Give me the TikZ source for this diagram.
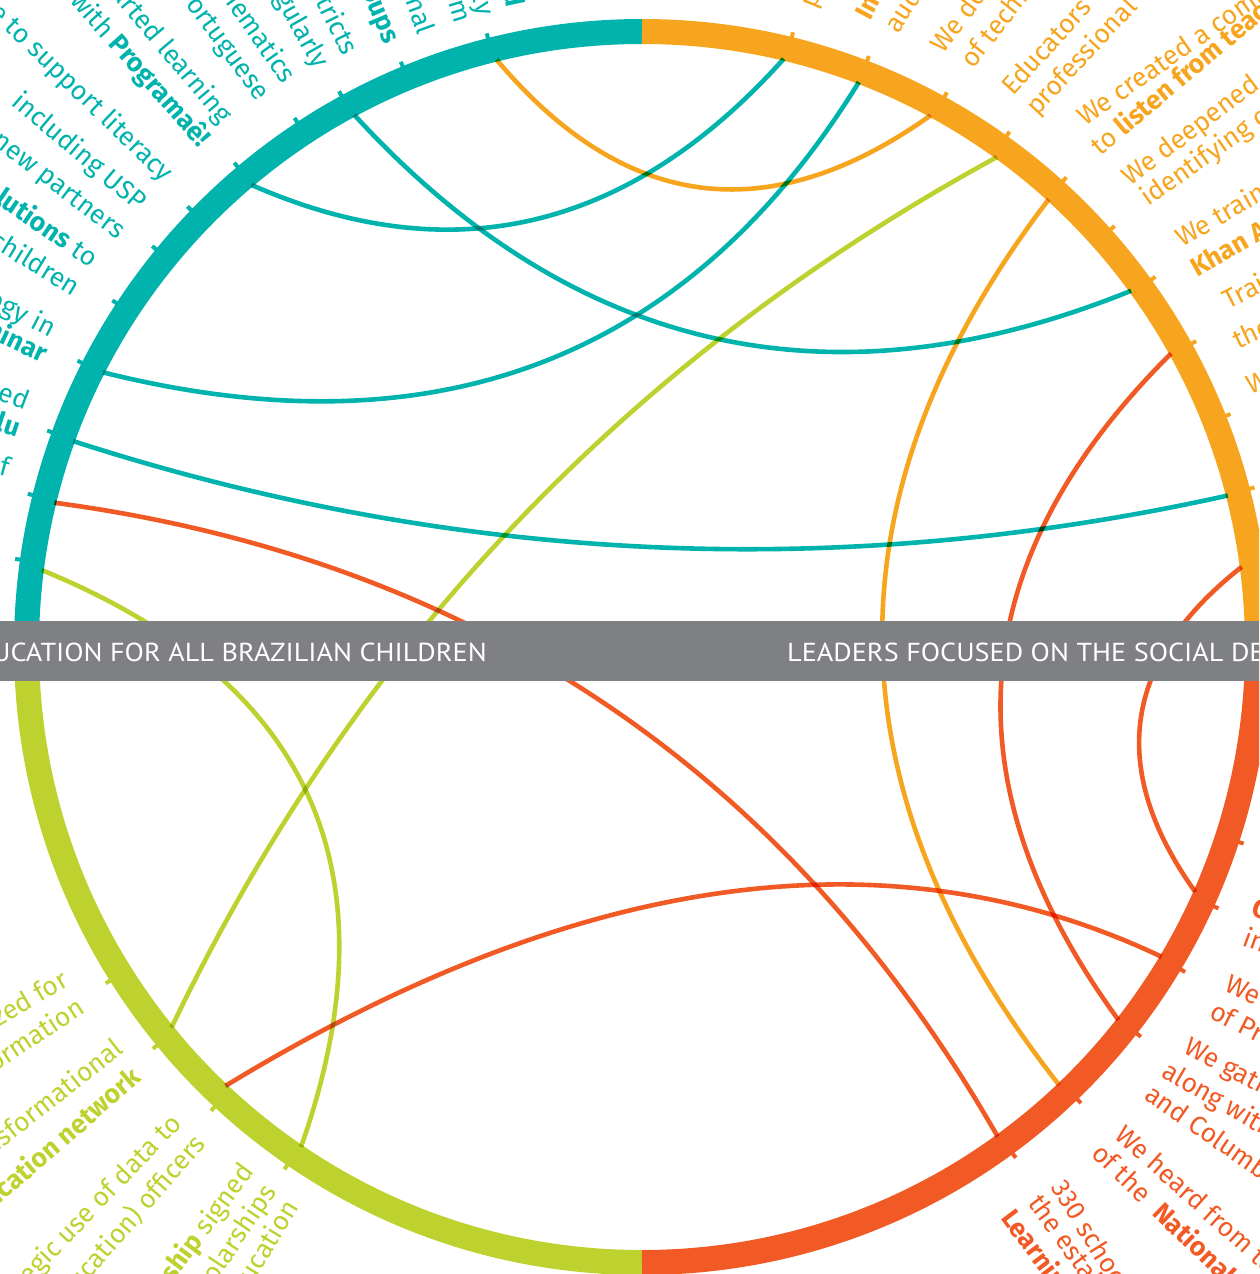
\documentclass[tikz,border=0pt]{standalone}
\usepackage{fontspec}
\setmainfont{Fira Sans}
\newfontfamily\bandfont{PT Sans}
\usetikzlibrary{calc}
\definecolor{cteal}{HTML}{00B3AD}
\definecolor{corange}{HTML}{F7A51E}
\definecolor{cred}{HTML}{F15A24}
\definecolor{clime}{HTML}{BED22F}
\definecolor{cband}{HTML}{7F8084}
\tikzset{
  ringarc/.style={line width=25pt},
  tickmark/.style={line width=4pt},
  chordline/.style={line width=4.6pt},
  etxt/.style={font=\fontsize{26.5}{26.5}\selectfont, inner sep=0pt},
  bandtxt/.style={font=\bandfont\fontsize{26}{26}\selectfont, text=white, inner sep=0pt},
}
\newcommand\Ltxt[5]{\node[etxt,text=#2,anchor=base east,rotate=#3] (#1) at #4 {#5};}
\newcommand\Rtxt[5]{\node[etxt,text=#2,anchor=base west,rotate=#3] (#1) at #4 {#5};}
\newcommand\chord[5]{%
  \coordinate (#1a) at (#3:605);
  \coordinate (#1b) at (#4:605);
  \coordinate (#1c) at #5;
  \draw[chordline,#2] (#1a) .. controls ($(#1a)!0.6667!(#1c)$) and ($(#1b)!0.6667!(#1c)$) .. (#1b);}
\begin{document}
\begin{tikzpicture}[x=1pt,y=1pt]
\useasboundingbox (0,0) rectangle (1259,-1274);
\clip (0,0) rectangle (1259,-1274);
\fill[white] (0,0) rectangle (1259,-1274);
\begin{scope}[shift={(642,-647)}]
  % ring
  \draw[ringarc,cteal] (90:615.5) arc[start angle=90,end angle=180,radius=615.5];
  \draw[ringarc,clime] (180:615.5) arc[start angle=180,end angle=270,radius=615.5];
  \draw[ringarc,cred] (270:615.5) arc[start angle=270,end angle=360,radius=615.5];
  \draw[ringarc,corange] (0:615.5) arc[start angle=0,end angle=90,radius=615.5];
  % ticks
  \foreach \a in {104.2,112.4,118.6,123.3,130.1,135.9,140.7,146.8,153.1,160,166,172}
    \draw[tickmark,cteal] (\a:626) -- (\a:633);
  \foreach \a in {76.2,69,61.2,54.5,47.9,41.7,35.8,28.9,21.6,14.6}
    \draw[tickmark,corange] (\a:626) -- (\a:633);
  \foreach \a in {-18.1,-24.4,-30.9,-38,-46.1,-53.8}
    \draw[tickmark,cred] (\a:626) -- (\a:633);
  \foreach \a in {212.1,219.4,227.1,235.6}
    \draw[tickmark,clime] (\a:626) -- (\a:633);
  % chords
  \begin{scope}[blend mode=multiply]
  \chord{oa}{corange}{103.9}{61.5}{(46.4,359.5)}
  \chord{ob}{corange}{47.75}{-46.4}{(68.5,5.1)}
  \chord{ta}{cteal}{130.2}{76.45}{(-90,330)}
  \chord{tb}{cteal}{153.0}{69.0}{(-39.4,149.5)}
  \chord{tc}{cteal}{118.4}{36.07}{(39.6,174.5)}
  \chord{td}{cteal}{160.1}{14.5}{(1.5,21.6)}
  \chord{la}{clime}{54.08}{218.96}{(-198.6,188.2)}
  \chord{lb}{clime}{172.7}{235.7}{(-196.2,-88.2)}
  \chord{ra}{cred}{166.2}{306.0}{(40.4,60.1)}
  \chord{rb}{cred}{226.5}{329.2}{(112.6,-116.7)}
  \chord{rc}{cred}{29.02}{-38.05}{(216.7,-17)}
  \chord{rd}{cred}{7.61}{-23.87}{(421.2,-60.2)}
  \end{scope}
\end{scope}
% band
\fill[cband] (0,-621) rectangle (1259,-681);
\node[bandtxt,anchor=base east] (bl) at (487,-661) {\scalebox{1.085}[1]{EDUCATION FOR ALL BRAZILIAN CHILDREN}};
\node[bandtxt,anchor=base west] (br) at (787,-661) {\scalebox{1.085}[1]{LEADERS FOCUSED ON THE SOCIAL DEVELOPMENT}};
% teal texts
\Ltxt{t1}{cteal}{-78}{(507,-8)}{\textbf{world}}
\Ltxt{t2}{cteal}{-75.3}{(478,-17)}{daily}
\Ltxt{t3}{cteal}{-73.3}{(455,-24)}{classroom}
\Ltxt{t4}{cteal}{-70}{(418,-36)}{national}
\Ltxt{t5}{cteal}{-67}{(385,-45)}{\textbf{groups}}
\Ltxt{t6}{cteal}{-63.4}{(343,-57)}{districts}
\Ltxt{t7}{cteal}{-60.5}{(315,-70)}{regularly}
\Ltxt{t8}{cteal}{-55}{(283,-85)}{mathematics}
\Ltxt{t9}{cteal}{-54}{(257,-102)}{Portuguese}
\Ltxt{t10}{cteal}{-50}{(220,-125)}{started learning}
\Ltxt{t11}{cteal}{-48.5}{(199,-148)}{with \textbf{Programaê!}}
\Ltxt{t12}{cteal}{-44}{(163,-183)}{software to support literacy}
\Ltxt{t13}{cteal}{-40.5}{(137,-212)}{including USP}
\Ltxt{t14}{cteal}{-37.5}{(117,-240)}{and new partners}
\Ltxt{t15}{cteal}{-34.3}{(90,-268)}{\textbf{solutions} to}
\Ltxt{t16}{cteal}{-31.6}{(73,-297)}{children}
\Ltxt{t17}{cteal}{-27.4}{(50,-338)}{technology in}
\Ltxt{t18}{cteal}{-25.3}{(42,-363)}{\textbf{Seminar}}
\Ltxt{t19}{cteal}{-21}{(25,-410)}{organized}
\Ltxt{t20}{cteal}{-18.6}{(17,-437)}{\textbf{lu}}
\Ltxt{t21}{cteal}{-15}{(7,-477)}{of}
% lime texts
\Ltxt{l1}{clime}{30.6}{(70,-985)}{organized for}
\Ltxt{l2}{clime}{33.3}{(87,-1012)}{information}
\Ltxt{l3}{clime}{38.1}{(125,-1052)}{transformational}
\Ltxt{l4}{clime}{40.9}{(143,-1080)}{\textbf{education network}}
\Ltxt{l5}{clime}{46.2}{(183,-1125)}{strategic use of data to}
\Ltxt{l6}{clime}{48.9}{(207,-1145)}{municipal (education) officers}
\Ltxt{l7}{clime}{53.6}{(255,-1172)}{\textbf{partnership} signed}
\Ltxt{l8}{clime}{56.2}{(277,-1192)}{scholarships}
\Ltxt{l9}{clime}{58.6}{(300,-1207)}{education}
% orange texts
\Rtxt{o1}{corange}{68}{(815,-10)}{partners}
\Rtxt{o2}{corange}{62}{(870,-22)}{\textbf{Improving}}
\Rtxt{o3}{corange}{57}{(898,-35)}{audiences}
\Rtxt{o4}{corange}{53}{(943,-55)}{We developed}
\Rtxt{o5}{corange}{52}{(973,-70)}{of technology}
\Rtxt{o6}{corange}{48}{(1013,-97)}{Educators}
\Rtxt{o7}{corange}{47}{(1037,-117)}{professional}
\Rtxt{o8}{corange}{35}{(1085,-127)}{We created a commitment}
\Rtxt{o9}{corange}{40}{(1100,-157)}{to \textbf{listen from teachers}}
\Rtxt{o10}{corange}{37}{(1130,-187)}{We deepened}
\Rtxt{o11}{corange}{35}{(1148,-207)}{identifying challenges}
\Rtxt{o12}{corange}{30}{(1182,-248)}{We trained}
\Rtxt{o13}{corange}{30}{(1197,-278)}{\textbf{Khan Academy}}
\Rtxt{o14}{corange}{27}{(1228,-310)}{Training}
\Rtxt{o15}{corange}{25}{(1238,-350)}{the}
\Rtxt{o16}{corange}{20}{(1250,-395)}{We}
% red texts
\Rtxt{r1}{cred}{-18}{(1250,-915)}{\textbf{Conviva}}
\Rtxt{r2}{cred}{-20}{(1241,-945)}{in}
\Rtxt{r3}{cred}{-25}{(1223,-990)}{We}
\Rtxt{r4}{cred}{-27}{(1208,-1017)}{of Prova Brasil}
\Rtxt{r5}{cred}{-28}{(1182,-1052)}{We gathered}
\Rtxt{r6}{cred}{-30}{(1160,-1076)}{along with}
\Rtxt{r7}{cred}{-35}{(1143,-1098)}{and Columbia}
\Rtxt{r8}{cred}{-42}{(1113,-1137)}{We heard from teachers}
\Rtxt{r9}{cred}{-44}{(1090,-1155)}{of the \ \textbf{National}}
\Rtxt{r10}{cred}{-58}{(1050,-1187)}{330 schools}
\Rtxt{r11}{cred}{-54}{(1027,-1203)}{the establishment}
\Rtxt{r12}{cred}{-53}{(1000,-1218)}{\textbf{Learning}}
\end{tikzpicture}
\end{document}
